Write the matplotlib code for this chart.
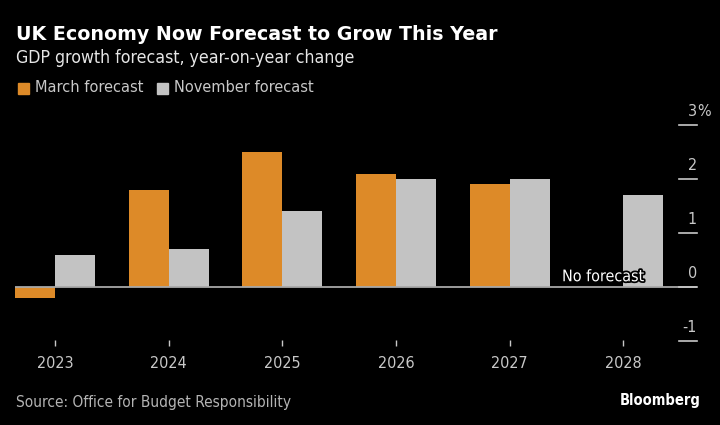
import matplotlib
matplotlib.use("Agg")
import matplotlib.pyplot as plt
import matplotlib.patheffects as pe
import numpy as np

# data
years = ["2023", "2024", "2025", "2026", "2027", "2028"]
march = [-0.2, 1.8, 2.5, 2.1, 1.9, np.nan]
november = [0.6, 0.7, 1.4, 2.0, 2.0, 1.7]
y_ticks = [3, 2, 1, 0, -1]
y_labels = ["3", "2", "1", "0", "-1"]

ORANGE = "#DD8A28"
GREY = "#C3C3C3"
BG = "black"
TEXT_GREY = "#C8C8C8"

plt.rcParams["font.family"] = ["DejaVu Sans"]
plt.rcParams["font.stretch"] = "condensed"

W, H = 720, 425
fig = plt.figure(figsize=(7.2, 4.25), dpi=100, facecolor=BG)

# axes placed in pixel terms
left, right, top, bottom = 15, 697, 100, 340
ax = fig.add_axes([left / W, (H - bottom) / H, (right - left) / W, (bottom - top) / H])
ax.set_facecolor(BG)

x = np.arange(len(years))
bw = 0.352
ax.bar(x - bw / 2, march, width=bw, color=ORANGE, zorder=2)
ax.bar(x + bw / 2, november, width=bw, color=GREY, zorder=2)

ax.set_xlim(-0.352, 5.65)
ax.set_ylim(-53 / 54, 187 / 54)

# zero line
ax.axhline(0, color="#A8A8A8", lw=1.3, zorder=3)

# right-hand value ticks: short lines with labels sitting above
ytrans = ax.get_yaxis_transform()
for v, lab in zip(y_ticks, y_labels):
    ax.plot([0.974, 1.0], [v, v], transform=ytrans,
            color=TEXT_GREY, lw=1.2, clip_on=False, zorder=3)
    ax.annotate(lab, xy=(1.0, v), xycoords=ytrans,
                xytext=(0, 4), textcoords="offset points",
                ha="right", va="bottom", color=TEXT_GREY, fontsize=11.5)
# the percent sign hangs past the tick line on the top label
ax.annotate("%", xy=(1.0, y_ticks[0]), xycoords=ytrans,
            xytext=(0, 4), textcoords="offset points",
            ha="left", va="bottom", color=TEXT_GREY, fontsize=11.5)

ax.annotate("No forecast", xy=(5 - bw / 2, 0), xytext=(0, 2),
            textcoords="offset points", ha="center", va="bottom",
            color="white", fontsize=11.5, zorder=4,
            path_effects=[pe.withStroke(linewidth=2.5, foreground="black")])

ax.set_xticks(x)
ax.set_xticklabels(years)
ax.tick_params(axis="x", colors=TEXT_GREY, length=4.2, width=1, pad=7,
               labelsize=11.5, labelcolor=TEXT_GREY)
ax.set_yticks([])
for s in ax.spines.values():
    s.set_visible(False)

# header text
fig.text(16 / W, 1 - 35 / H, "UK Economy Now Forecast to Grow This Year",
         color="white", fontsize=13.7, fontweight="bold", fontstretch="normal",
         va="center", ha="left")
fig.text(16 / W, 1 - 58 / H, "GDP growth forecast, year-on-year change",
         color="#E6E6E6", fontsize=12.7, va="center", ha="left")

# legend
for x0, col, lab in [(18, ORANGE, "March forecast"), (157, GREY, "November forecast")]:
    fig.patches.append(plt.Rectangle((x0 / W, 1 - 94 / H), 11 / W, 11 / H,
                                     transform=fig.transFigure, color=col))
    fig.text((x0 + 17) / W, 1 - 88 / H, lab, color=TEXT_GREY, fontsize=11.7,
             va="center", ha="left")

# footer
fig.text(16 / W, 1 - 402 / H, "Source: Office for Budget Responsibility",
         color="#B4B4B4", fontsize=11.1, va="center", ha="left")
fig.text(701 / W, 1 - 400 / H, "Bloomberg", color="white", fontsize=10.5,
         fontweight="bold", va="center", ha="right")

fig.savefig("out.png", dpi=100, facecolor=BG)
